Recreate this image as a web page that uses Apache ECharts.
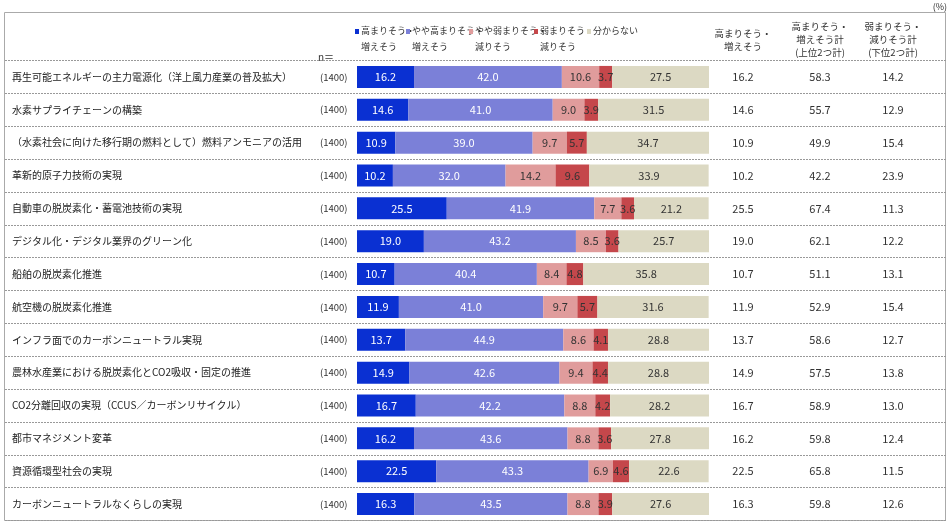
<!DOCTYPE html><html><head><meta charset="utf-8"><script src="https://cdn.jsdelivr.net/npm/echarts@6/dist/echarts.min.js"></script>
<style>html,body{margin:0;background:#fff}#c{width:952px;height:525px}</style></head><body><div id="c"></div><script>
const categories=["再生可能エネルギーの主力電源化（洋上風力産業の普及拡大）","水素サプライチェーンの構築","（水素社会に向けた移行期の燃料として）燃料アンモニアの活用","革新的原子力技術の実現","自動車の脱炭素化・蓄電池技術の実現","デジタル化・デジタル業界のグリーン化","船舶の脱炭素化推進","航空機の脱炭素化推進","インフラ面でのカーボンニュートラル実現","農林水産業における脱炭素化とCO2吸収・固定の推進","CO2分離回収の実現（CCUS／カーボンリサイクル）","都市マネジメント変革","資源循環型社会の実現","カーボンニュートラルなくらしの実現"];
const nValues=[1400,1400,1400,1400,1400,1400,1400,1400,1400,1400,1400,1400,1400,1400];
const seriesNames=["高まりそう・増えそう","やや高まりそう・増えそう","やや弱まりそう・減りそう","弱まりそう・減りそう","分からない"];
const high=[16.2,14.6,10.9,10.2,25.5,19.0,10.7,11.9,13.7,14.9,16.7,16.2,22.5,16.3];
const someHigh=[42.0,41.0,39.0,32.0,41.9,43.2,40.4,41.0,44.9,42.6,42.2,43.6,43.3,43.5];
const someWeak=[10.6,9.0,9.7,14.2,7.7,8.5,8.4,9.7,8.6,9.4,8.8,8.8,6.9,8.8];
const weak=[3.7,3.9,5.7,9.6,3.6,3.6,4.8,5.7,4.1,4.4,4.2,3.6,4.6,3.9];
const unknown=[27.5,31.5,34.7,33.9,21.2,25.7,35.8,31.6,28.8,28.8,28.2,27.8,22.6,27.6];
const topTotal=[58.3,55.7,49.9,42.2,67.4,62.1,51.1,52.9,58.6,57.5,58.9,59.8,65.8,59.8];
const bottomTotal=[14.2,12.9,15.4,23.9,11.3,12.2,13.1,15.4,12.7,13.8,13.0,12.4,11.5,12.6];
const colors=["#0a30d2","#7b80d8","#e09c9c","#c5474b","#dcd9c3"];
const labelColors=["#fff","#fff","#333","#333","#333"];
const F="'Noto Sans CJK JP',sans-serif";
const data=[high,someHigh,someWeak,weak,unknown];
const chart=echarts.init(document.getElementById('c'));
const legendX=[355,406,469,534,587];
const legendLines=[["高まりそう・","増えそう"],["やや高まりそう・","増えそう"],["やや弱まりそう・","減りそう"],["弱まりそう・","減りそう"],["分からない",""]];
const g=[{type:'rect',shape:{x:4.5,y:12.5,width:941,height:508},style:{fill:'none',stroke:'#aaa',lineWidth:1}},
{type:'text',x:947,y:2,style:{text:'(%)',font:'9px '+F,fill:'#333',align:'right'}},
{type:'text',x:326,y:52,style:{text:'n＝',font:'10px '+F,fill:'#333',align:'center'}}];
legendX.forEach((x,i)=>{g.push({type:'rect',shape:{x:x,y:29,width:4,height:5},style:{fill:colors[i]}});
g.push({type:'text',x:x+6,y:26,style:{text:legendLines[i][0],font:'9px '+F,fill:'#333'}});
g.push({type:'text',x:x+6,y:42,style:{text:legendLines[i][1],font:'9px '+F,fill:'#333'}});});
const hdr=[[743,[ "高まりそう・","増えそう"],29],[820,["高まりそう・","増えそう計","(上位2つ計)"],22],[893,["弱まりそう・","減りそう計","(下位2つ計)"],22]];
hdr.forEach(h=>h[1].forEach((t,j)=>g.push({type:'text',x:h[0],y:h[2]+j*13,style:{text:t,font:'9.5px '+F,fill:'#333',align:'center'}})));
chart.setOption({animation:false,graphic:g,
grid:[{left:357,right:243,top:60.5,bottom:4.5},{left:5,right:6,top:60.5,bottom:4.5}],
xAxis:[{type:'value',min:0,max:100,show:false,gridIndex:0},{type:'value',show:false,gridIndex:1}],
yAxis:[{type:'category',data:categories,inverse:true,gridIndex:0,axisLine:{show:false},axisTick:{show:false},
axisLabel:{margin:345,align:'left',formatter:(v,i)=>'{a|'+v+'}{n|('+nValues[i]+')}',rich:{a:{width:308,fontSize:10,fontFamily:F,color:'#222'},n:{width:36,fontSize:9.5,fontFamily:F,color:'#333'}}}},
{type:'category',data:categories,inverse:true,gridIndex:0,position:'right',axisLine:{show:false},axisTick:{show:false},
axisLabel:{margin:0,align:'left',formatter:(v,i)=>'{b|'+high[i].toFixed(1)+'}{c|'+topTotal[i].toFixed(1)+'}{d|'+bottomTotal[i].toFixed(1)+'}',rich:{b:{width:68,align:'center',fontSize:11,fontFamily:F,color:'#333'},c:{width:86,align:'center',fontSize:11,fontFamily:F,color:'#333'},d:{width:60,align:'center',fontSize:11,fontFamily:F,color:'#333'}}}},
{type:'category',data:categories,inverse:true,gridIndex:1,axisLine:{show:false},axisTick:{show:false},axisLabel:{show:false},
splitLine:{show:true,interval:0,lineStyle:{color:'#999',type:[2,1],width:1}}}],
series:data.map((d,i)=>({type:'bar',name:seriesNames[i],stack:'s',data:d,barWidth:22,xAxisIndex:0,yAxisIndex:0,itemStyle:{color:colors[i]},
label:{show:true,position:'inside',color:labelColors[i],fontSize:11,fontFamily:F,formatter:p=>p.value.toFixed(1)}}))});
</script></body></html>
